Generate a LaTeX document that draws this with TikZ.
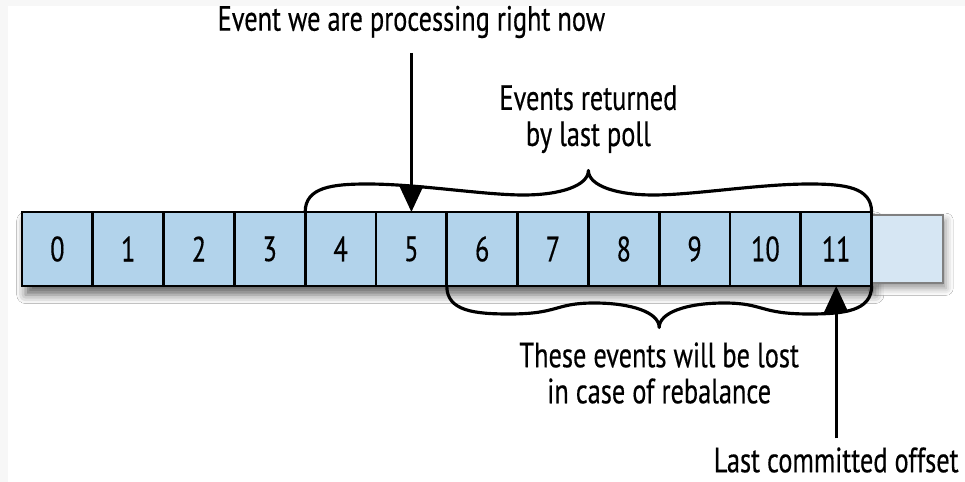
\documentclass[tikz,border=0pt]{standalone}
\usepackage{fontspec}
\setmainfont[FakeStretch=0.75, FakeBold=0.4]{PT Sans}
\usepackage{xcolor}
\usetikzlibrary{positioning, calc, shadows.blur, backgrounds, arrows.meta}

\definecolor{cellblue}{RGB}{178,211,235}
\definecolor{freeblue}{RGB}{214,230,243}

% curly brace between two points, #3 = 1 opens upwards, -1 downwards
\newcommand{\curlybrace}[3]{%
    \draw [brace line] (#1)
        .. controls +(0,#3*0.5) and +(-0.7,0) .. ($(#1)+(1.25,#3*0.56)$)
        .. controls +(1.0,0) and +(-0.8,0) .. ($(#1)!0.5!(#2)+(-1.3,#3*0.34)$)
        .. controls +(0.75,0) and +(0,#3*-0.3) .. ($(#1)!0.5!(#2)+(0,#3*0.83)$)
        .. controls +(0,#3*-0.3) and +(-0.75,0) .. ($(#1)!0.5!(#2)+(1.3,#3*0.34)$)
        .. controls +(0.8,0) and +(-1.0,0) .. ($(#2)+(-1.25,#3*0.56)$)
        .. controls +(0.7,0) and +(0,#3*0.5) .. (#2);
}

\begin{document}
\begin{tikzpicture}[
    cell/.style={rectangle, draw, line width=1.6pt, fill=cellblue, minimum width=1.416cm, minimum height=1.48cm, inner sep=0pt, outer sep=0pt, font=\fontsize{20}{23}\selectfont},
    freecell/.style={rectangle, draw=black!50, line width=1.2pt, fill=freeblue, minimum width=1.42cm, minimum height=1.36cm, outer sep=0pt, blur shadow={shadow xshift=2pt, shadow yshift=-3pt, shadow blur radius=4pt, shadow opacity=40}},
    note/.style={align=center, font=\fontsize{20}{20.5}\selectfont, inner sep=2pt},
    brace line/.style={line width=1.8pt, line join=round},
    line/.style={draw, line width=1.6pt, -{Triangle[length=15pt, width=13.5pt]}}
]
    \useasboundingbox (-0.44,-4.66) rectangle (18.86,4.98);

    % the offsets of the partition
    \node [cell, anchor=west] (c0) at (0,0) {0};
    \foreach \i [remember=\i as \j (initially 0)] in {1,...,11}
        \node [cell, right=0pt of c\j] (c\i) {\i};

    \begin{scope}[on background layer]
        \fill[black!3] (-0.44,-4.66) rectangle (18.86,4.98);
        \fill[white] (-0.28,-4.66) rectangle (18.86,4.86);
        \path[blur shadow={shadow xshift=2pt, shadow yshift=-5pt, shadow blur radius=5pt, shadow opacity=60}] (c0.north west) rectangle (c11.south east);
        \node [freecell, right=0pt of c11] (free) {};
    \end{scope}

    % labels
    \node [note, above=3.4cm of c5] (now) {Event we are processing right now};
    \node [note, above=1.1cm of c7.north east] (poll) {Events returned\\by last poll};
    \node [note, below=1.05cm of c8.south east] (lost) {These events will be lost\\in case of rebalance};
    \node [note, below=3.15cm of c11] (commit) {Last committed offset};

    % braces
    \curlybrace{c4.north west}{c11.north east}{1}
    \curlybrace{c6.south west}{c11.south east}{-1}

    % arrows
    \path [line] ([yshift=-0.22cm]now.south -| c5.north) -- (c5.north);
    \path [line] ([yshift=0.1cm]commit.north -| c11.south) -- (c11.south);
\end{tikzpicture}
\end{document}
